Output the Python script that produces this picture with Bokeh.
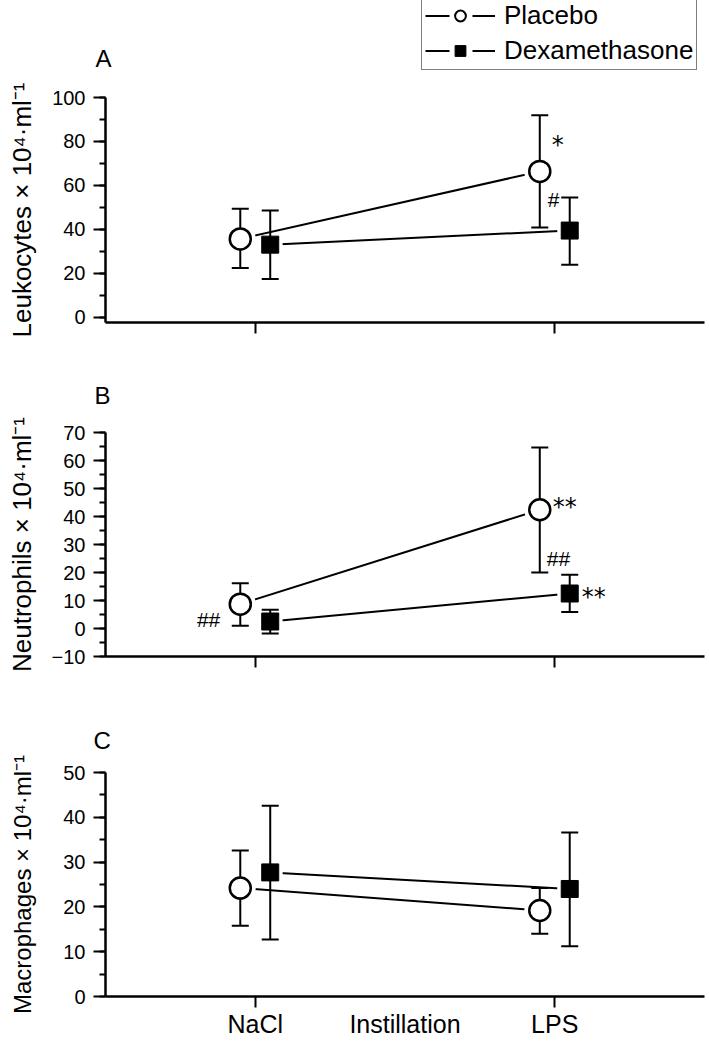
from bokeh.plotting import figure
from bokeh.models import (Range1d, FixedTicker, SingleIntervalTicker, Label,
                          Legend, LegendItem)
from bokeh.layouts import column
from bokeh.embed import file_html
from bokeh.resources import INLINE
from bokeh.core.properties import value

# ---------------- data ----------------
categories = ["NaCl", "LPS"]
cat_pos = [1, 2]
x_axis_label = "Instillation"
series_names = ["Placebo", "Dexamethasone"]

# Panel A: Leukocytes
A_placebo_mean = [35.7, 66.4]
A_placebo_upper = [49.4, 91.9]
A_placebo_lower = [22.5, 40.9]
A_dex_mean = [33.1, 39.5]
A_dex_upper = [48.6, 54.5]
A_dex_lower = [17.5, 24.0]

# Panel B: Neutrophils
B_placebo_mean = [8.7, 42.4]
B_placebo_upper = [16.2, 64.6]
B_placebo_lower = [1.0, 20.0]
B_dex_mean = [2.5, 12.5]
B_dex_upper = [6.7, 19.2]
B_dex_lower = [-1.8, 5.9]

# Panel C: Macrophages
C_placebo_mean = [24.2, 19.2]
C_placebo_upper = [32.6, 24.2]
C_placebo_lower = [15.8, 14.0]
C_dex_mean = [27.7, 24.0]
C_dex_upper = [42.6, 36.6]
C_dex_lower = [12.7, 11.2]

# significance marks: (text, series, category index, dx px, dy px, align)
A_marks = [("*", "placebo", 1, 12, -26, "left"), ("#", "dex", 1, -22, -31, "left")]
B_marks = [("##", "placebo", 0, -20, 15, "right"), ("**", "placebo", 1, 13, -3, "left"),
           ("##", "dex", 1, -23, -35, "left"), ("**", "dex", 1, 12, 3, "left")]
C_marks = []

FONT = "Liberation Sans"
BLACK = "#000000"
OFF = 0.05
W = 709
LEFT = 105
RIGHT = 5


def header(h, letter, letter_xy):
    f = figure(width=W, height=h, output_backend="svg", toolbar_location=None,
               title=None, x_range=Range1d(0, 1), y_range=Range1d(0, 1),
               x_axis_location=None, y_axis_location=None,
               min_border=0, min_border_left=0, min_border_right=0,
               min_border_top=0, min_border_bottom=0,
               outline_line_color=None, frame_align=False)
    for g in f.grid:
        g.visible = False
    f.add_layout(Label(x=letter_xy[0], y=letter_xy[1], x_units="screen", y_units="screen",
                       text=letter, text_font=FONT, text_font_size="24px",
                       text_color=BLACK, text_baseline="middle", text_align="left"))
    return f


def make_panel(ylabel, yr, interval, pm, pu, pl, dm, du, dl, marks,
               height, top, bottom, label_standoff, label_size, bottom_labels):
    p = figure(width=W, height=height, output_backend="svg", toolbar_location=None,
               title=None, x_range=Range1d(0.5, 2.5), y_range=Range1d(*yr),
               min_border_left=LEFT, min_border_right=RIGHT, min_border_top=top,
               min_border_bottom=bottom, outline_line_color=None)
    p.xgrid.visible = False
    p.ygrid.visible = False

    px = [c - OFF for c in cat_pos]
    dx = [c + OFF for c in cat_pos]

    # connecting lines with gaps (white halos around markers)
    p.line(dx, dm, line_color=BLACK, line_width=2)
    p.scatter(dx, dm, marker="circle", size=25, fill_color="white", line_color=None)
    p.line(px, pm, line_color=BLACK, line_width=2)
    p.scatter(px, pm, marker="circle", size=31, fill_color="white", line_color=None)

    # error bars
    for xs, lo, hi in ((px, pl, pu), (dx, dl, du)):
        p.segment(x0=xs, y0=lo, x1=xs, y1=hi, line_color=BLACK, line_width=2)
        p.scatter(xs, hi, marker="dash", size=17, line_color=BLACK, line_width=2)
        p.scatter(xs, lo, marker="dash", size=17, line_color=BLACK, line_width=2)

    # markers
    p.scatter(px, pm, marker="circle", size=21, fill_color="white",
              line_color=BLACK, line_width=2.5)
    p.scatter(dx, dm, marker="square", size=17, fill_color=BLACK, line_color=BLACK)

    # significance marks
    for txt, ser, i, ox, oy, al in marks:
        xx = px[i] if ser == "placebo" else dx[i]
        yy = pm[i] if ser == "placebo" else dm[i]
        if "*" in txt:
            fnt, fs = "DejaVu Sans", "24px"
        else:
            fnt, fs = FONT, "21px"
        p.text(x=[xx], y=[yy], text=[txt], x_offset=ox, y_offset=oy,
               text_align=al, text_baseline="middle",
               text_font=value(fnt), text_font_size=fs, text_color=BLACK)

    # y axis
    ya = p.yaxis[0]
    ya.ticker = SingleIntervalTicker(interval=interval, num_minor_ticks=2)
    ya.axis_label = ylabel
    ya.axis_label_text_font = FONT
    ya.axis_label_text_font_size = label_size
    ya.axis_label_text_font_style = "normal"
    ya.axis_label_text_color = BLACK
    ya.axis_label_standoff = label_standoff
    ya.major_label_text_font = FONT
    ya.major_label_text_font_size = "20px"
    ya.major_label_text_color = BLACK
    ya.major_label_standoff = 8
    ya.axis_line_width = 2.5
    ya.axis_line_color = BLACK
    ya.major_tick_line_width = 2
    ya.minor_tick_line_width = 2
    ya.major_tick_line_color = BLACK
    ya.minor_tick_line_color = BLACK
    ya.major_tick_out = 12
    ya.major_tick_in = 0
    ya.minor_tick_out = 6
    ya.minor_tick_in = 0

    # x axis
    xa = p.xaxis[0]
    xa.axis_line_width = 2.5
    xa.axis_line_color = BLACK
    if bottom_labels:
        mid = (cat_pos[0] + cat_pos[1]) / 2
        xa.ticker = FixedTicker(ticks=[cat_pos[0], mid, cat_pos[1]], minor_ticks=cat_pos)
        xa.major_label_overrides = {cat_pos[0]: categories[0], mid: x_axis_label,
                                    cat_pos[1]: categories[1]}
        xa.major_tick_line_color = None
        xa.major_tick_out = 0
        xa.major_tick_in = 0
        xa.minor_tick_out = 11
        xa.minor_tick_in = 0
        xa.minor_tick_line_width = 2
        xa.minor_tick_line_color = BLACK
        xa.major_label_text_font = FONT
        xa.major_label_text_font_size = "25px"
        xa.major_label_text_color = BLACK
        xa.major_label_standoff = 2
    else:
        xa.ticker = FixedTicker(ticks=cat_pos, minor_ticks=[])
        xa.major_label_overrides = {c: "" for c in cat_pos}
        xa.major_label_text_font_size = "2px"
        xa.major_label_standoff = 0
        xa.major_tick_out = 11
        xa.major_tick_in = 0
        xa.major_tick_line_width = 2
        xa.major_tick_line_color = BLACK
    return p


hA = header(73, "A", (95, 15))
pA = make_panel("Leukocytes × 10⁴·ml⁻¹", (-2.3, 100), 20,
                A_placebo_mean, A_placebo_upper, A_placebo_lower,
                A_dex_mean, A_dex_upper, A_dex_lower, A_marks,
                287, 24, 38, 12, "26px", False)
hB = header(50, "B", (94, 15))
pB = make_panel("Neutrophils × 10⁴·ml⁻¹", (-10, 70), 10,
                B_placebo_mean, B_placebo_upper, B_placebo_lower,
                B_dex_mean, B_dex_upper, B_dex_lower, B_marks,
                290, 22, 44, 12, "26px", False)
hC = header(54, "C", (93, 14))
pC = make_panel("Macrophages × 10⁴·ml⁻¹", (0, 50), 10,
                C_placebo_mean, C_placebo_upper, C_placebo_lower,
                C_dex_mean, C_dex_upper, C_dex_lower, C_marks,
                286, 18, 43, 24, "24px", True)

# legend in the header of panel A (legend-only renderers lie outside the header's ranges)
lp_line = hA.line([-3, -2], [-3, -2], line_color=BLACK, line_width=2, line_dash="24 23 23")
lp_mark = hA.scatter([-3], [-3], marker="circle", fill_color="white", line_color=BLACK,
                     line_width=2)
ld_line = hA.line([-3, -2], [-3, -2], line_color=BLACK, line_width=2, line_dash="24 23 23")
ld_mark = hA.scatter([-3], [-3], marker="square", fill_color=BLACK, line_color=BLACK)
legend = Legend(items=[LegendItem(label=series_names[0], renderers=[lp_line, lp_mark]),
                       LegendItem(label=series_names[1], renderers=[ld_line, ld_mark])],
                location=(421, 3), glyph_width=70, glyph_height=27, label_height=27,
                spacing=4, padding=3, margin=0, label_standoff=9,
                label_text_font=FONT, label_text_font_size="26px", label_text_color=BLACK,
                border_line_color=BLACK, border_line_width=1.5,
                background_fill_color="white", background_fill_alpha=1)
hA.add_layout(legend, "center")

layout = column(hA, pA, hB, pB, hC, pC, spacing=0)
open("out.html", "w").write(file_html(layout, INLINE))
